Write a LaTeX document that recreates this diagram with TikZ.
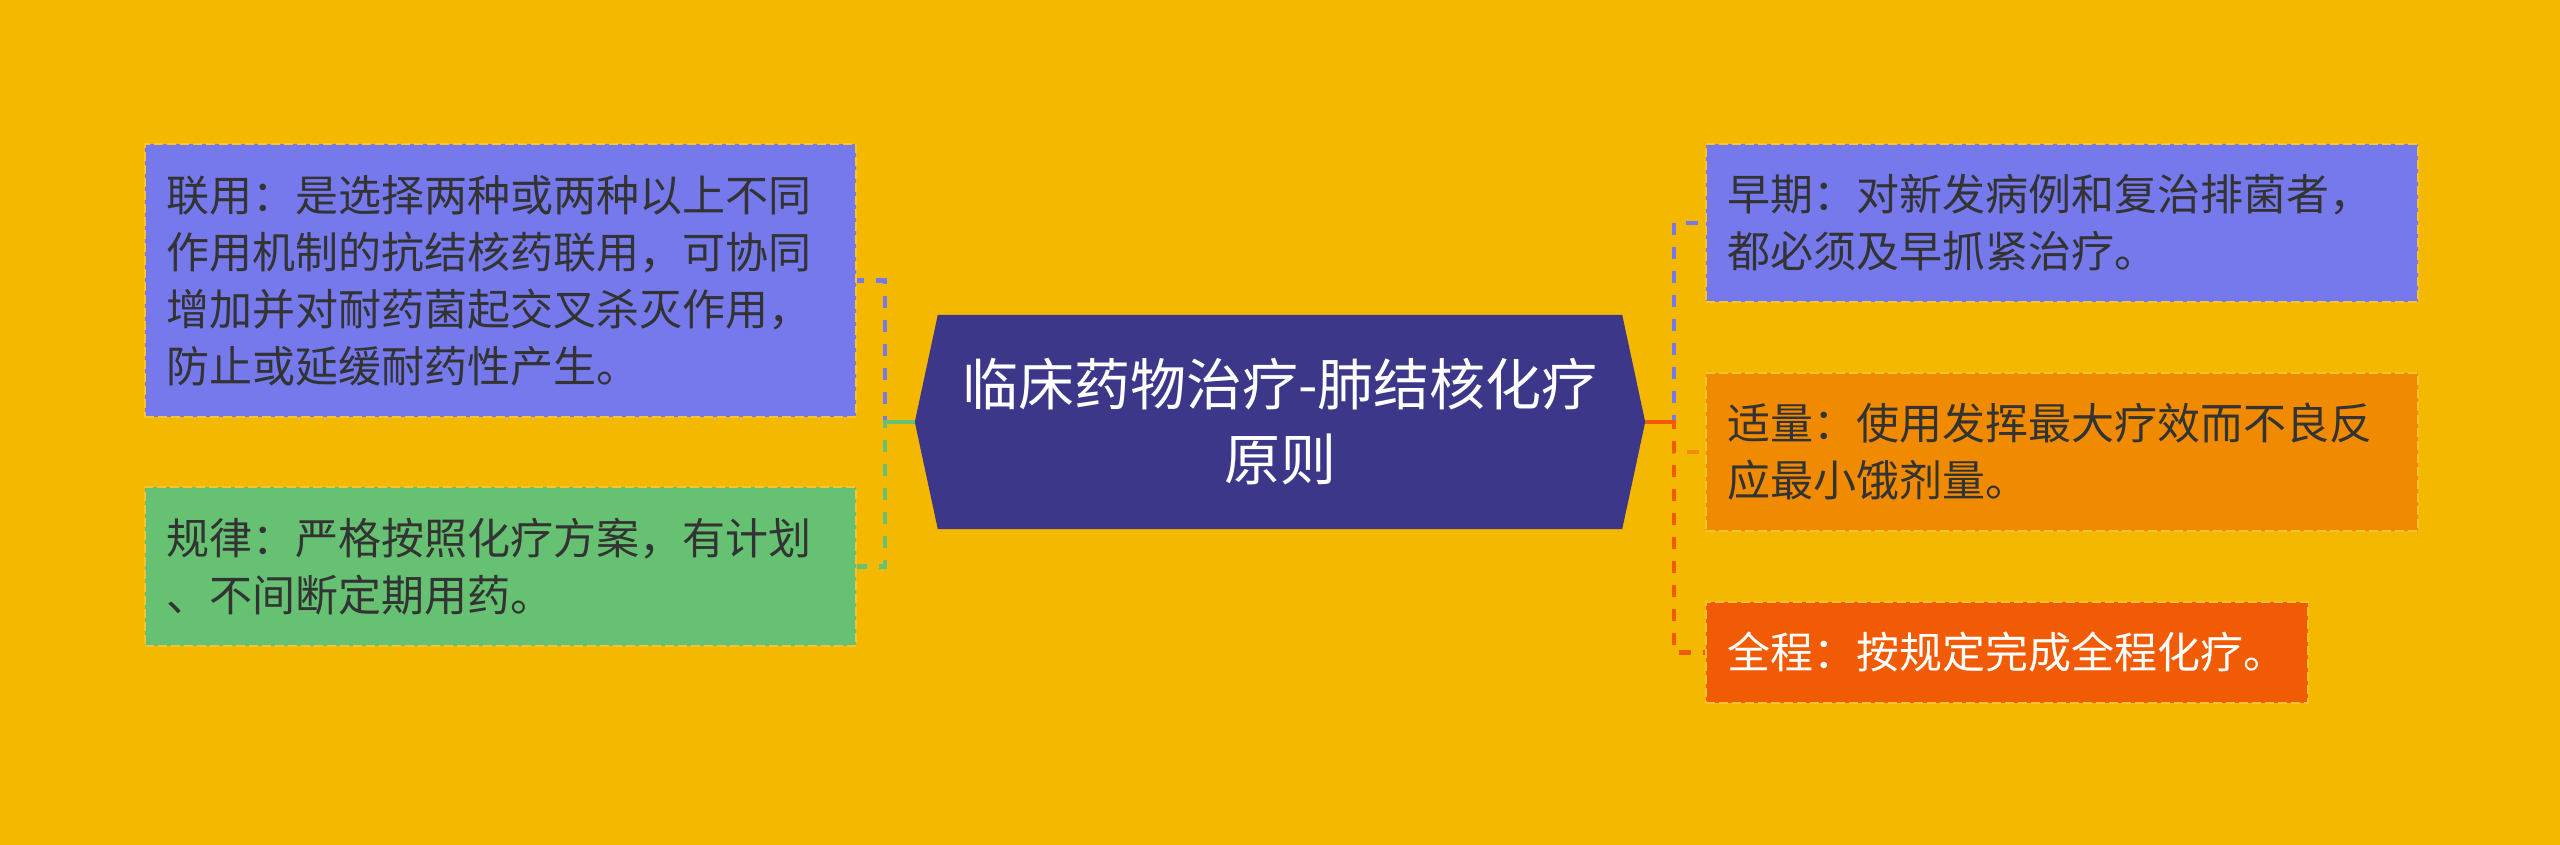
\documentclass[tikz,border=0pt]{standalone}
\usepackage{fontspec}
\setmainfont{Noto Sans CJK SC}
\usetikzlibrary{calc}
\pgfdeclarelayer{bg}
\pgfsetlayers{bg,main}
\definecolor{bgc}{HTML}{F5B800}
\definecolor{bluec}{HTML}{7579EC}
\definecolor{greenc}{HTML}{66C172}
\definecolor{orangec}{HTML}{F08A00}
\definecolor{redc}{HTML}{F25B05}
\definecolor{centerc}{HTML}{3D3789}
\definecolor{textc}{HTML}{333333}
\definecolor{borderc}{HTML}{F7C330}
\tikzset{
  box/.style={rectangle, draw=borderc, line width=2pt, dash pattern=on 9pt off 4pt,
    inner xsep=21pt, inner ysep=0pt, align=left, anchor=north west,
    font=\fontsize{43}{57}\selectfont, text=textc},
  conn/.style={line width=4.5pt, dash pattern=on 12pt off 12pt},
  stub/.style={line width=4.5pt}
}
\begin{document}
\begin{tikzpicture}[x=1pt,y=-1pt]
\useasboundingbox (0,0) rectangle (2560,845);
\node[box, fill=bluec, text width=669pt, minimum height=273pt] (lianyong) at (144,143)
  {联用：是选择两种或两种以上不同\\作用机制的抗结核药联用，可协同\\增加并对耐药菌起交叉杀灭作用，\\防止或延缓耐药性产生。};
\node[box, fill=greenc, text width=669pt, minimum height=159pt] (guilv) at (144,486)
  {规律：严格按照化疗方案，有计划\\、不间断定期用药。};
\node[box, fill=bluec, text width=670pt, minimum height=158pt] (zaoqi) at (1705,143)
  {早期：对新发病例和复治排菌者，\\都必须及早抓紧治疗。};
\node[box, fill=orangec, text width=670pt, minimum height=158pt] (shiliang) at (1705,372)
  {适量：使用发挥最大疗效而不良反\\应最小饿剂量。};
\node[box, fill=redc, text=white, text width=560pt, minimum height=101pt] (quancheng) at (1705,601)
  {全程：按规定完成全程化疗。};
\node[rectangle, minimum width=730pt, minimum height=214pt, inner sep=0pt, align=center,
  text=white, font=\fontsize{56}{75}\selectfont] (c) at (1280,422)
  {临床药物治疗-肺结核化疗\\原则};
\begin{pgfonlayer}{bg}
  \fill[bgc] (0,0) rectangle (2560,845);
  \fill[centerc] ($(c.north west)+(23,0)$) -- ($(c.north east)+(-23,0)$) -- (c.east)
    -- ($(c.south east)+(-23,0)$) -- ($(c.south west)+(23,0)$) -- (c.west) -- cycle;
  \draw[conn, bluec] (c.west) -- ++(-30,0) |- (lianyong.east);
  \draw[conn, greenc] (c.west) -- ++(-30,0) |- (guilv.east);
  \draw[stub, greenc] (c.west) -- ++(-30,0);
  \draw[conn, bluec] (c.east) -- ++(29,0) |- (zaoqi.west);
  \draw[conn, orangec] (c.east) -- ++(29,0) |- (shiliang.west);
  \draw[conn, redc] (c.east) -- ++(29,0) |- (quancheng.west);
  \draw[stub, redc] (c.east) -- ++(29,0);
\end{pgfonlayer}
\end{tikzpicture}
\end{document}
